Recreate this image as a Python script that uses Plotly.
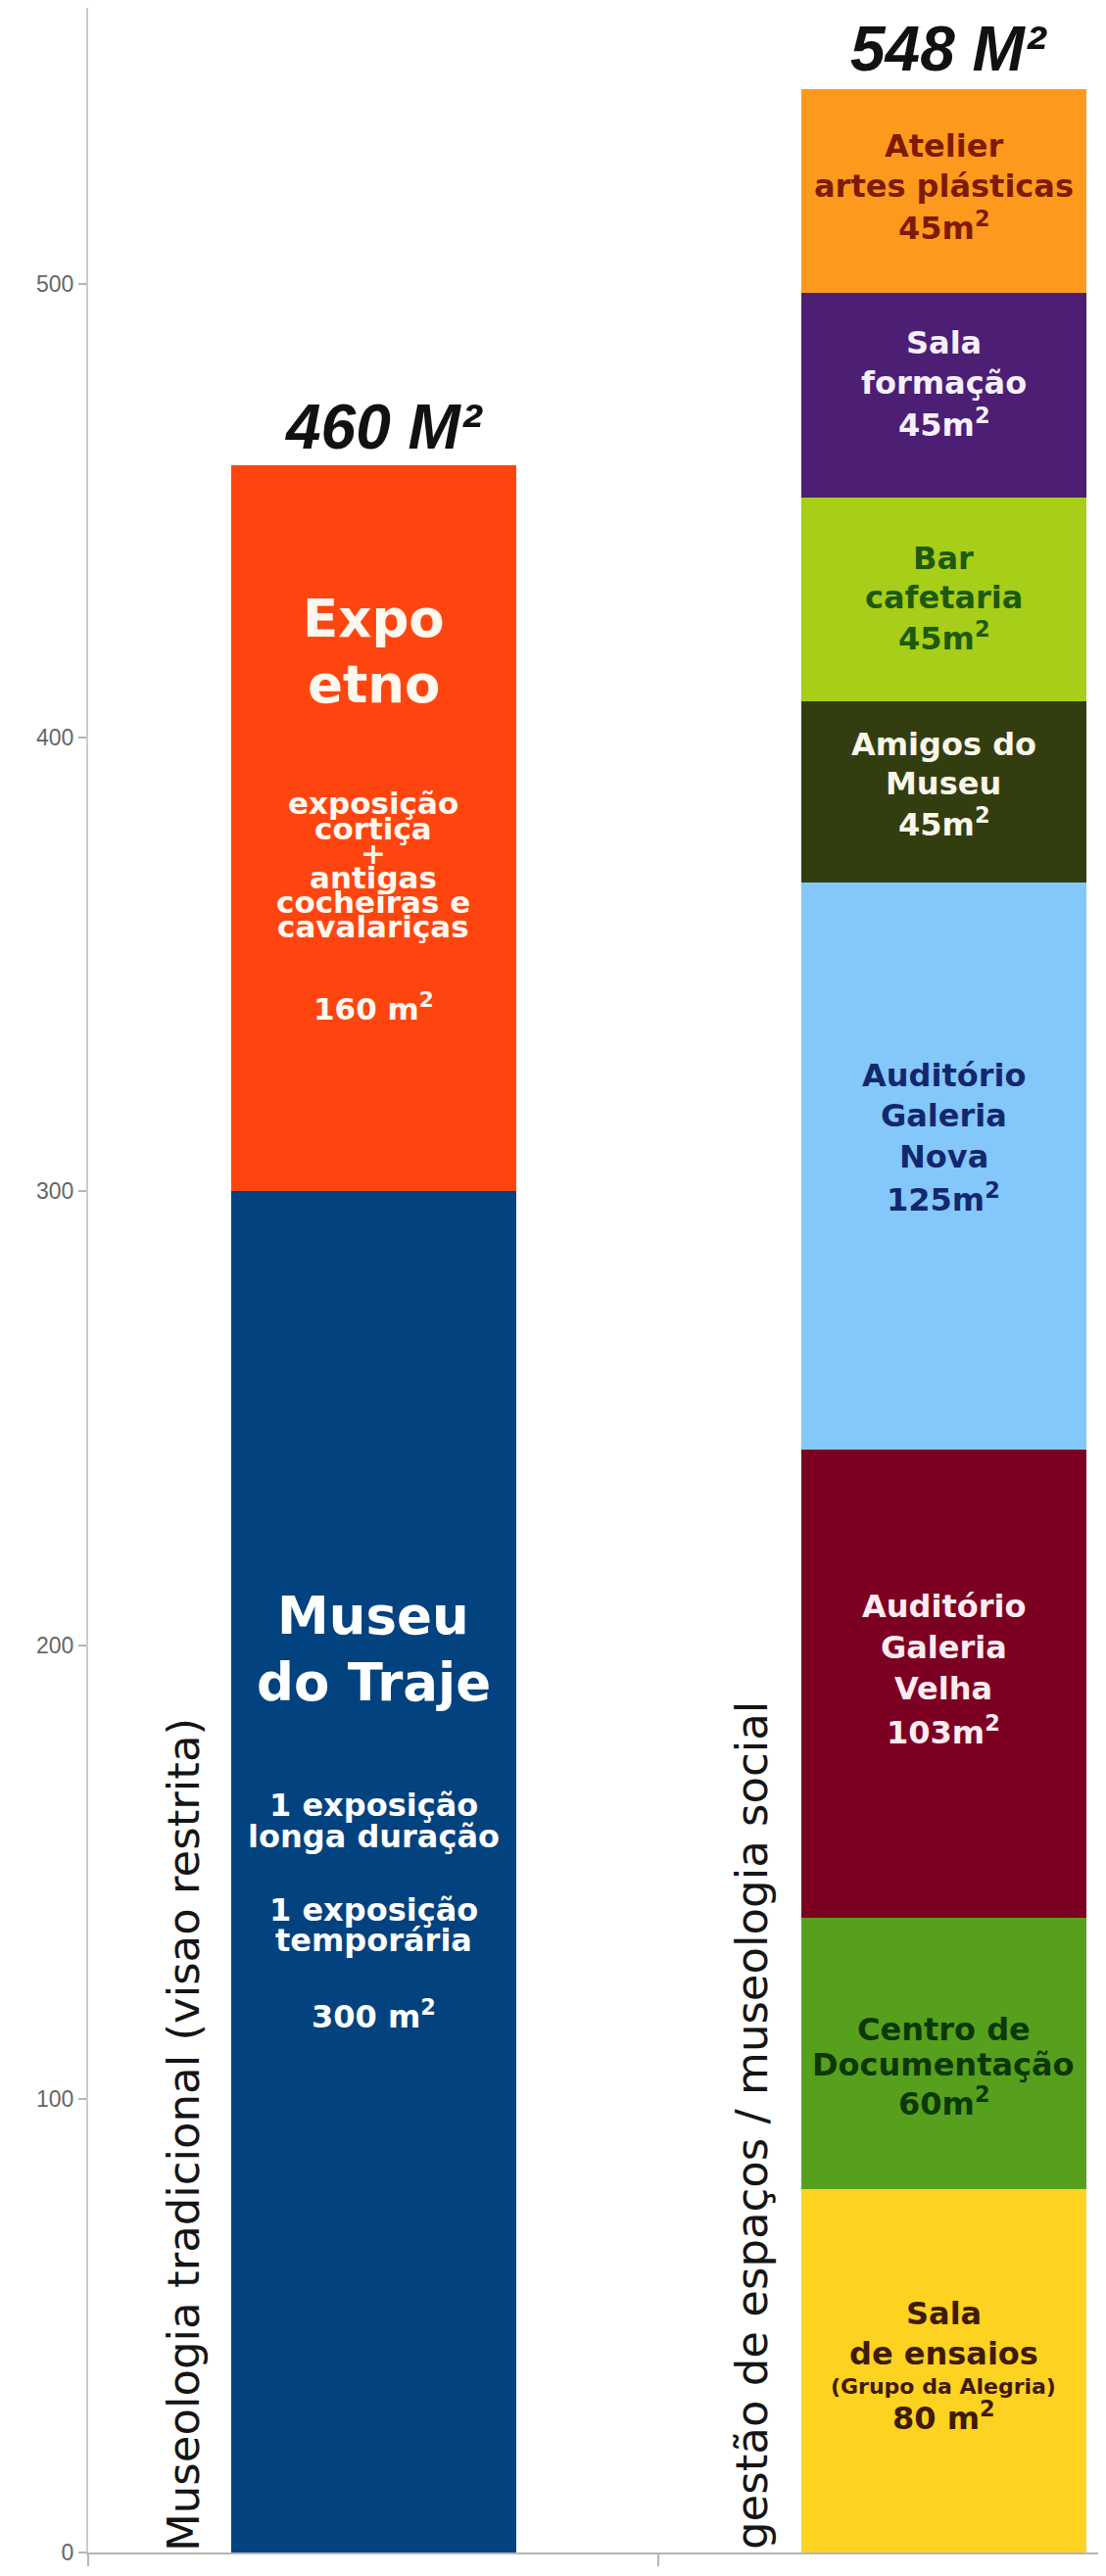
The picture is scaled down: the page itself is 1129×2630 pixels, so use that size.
import plotly.graph_objects as go

# --- data ---------------------------------------------------------------
categories = ["Museologia tradicional", "gestão de espaços"]
cat_x = [0, 1]

left_names = ["Museu do Traje", "Expo etno"]
left_values = [300, 160]
left_colors = ["#01427f", "#fe4510"]

right_names = [
    "Sala de ensaios", "Centro de Documentação", "Auditório Galeria Velha",
    "Auditório Galeria Nova", "Amigos do Museu", "Bar cafetaria",
    "Sala formação", "Atelier artes plásticas",
]
right_values = [80, 60, 103, 125, 40, 45, 45, 45]
right_colors = ["#fdd220", "#56a01e", "#7c0021", "#84c7fa",
                "#323e0f", "#a7ce18", "#4c1e74", "#fd9a1e"]

totals_text = ["460 M²", "548 M²"]
y_ticks = [0, 100, 200, 300, 400, 500]

# --- page geometry (the html body has an 8px margin) ----------------------
BODY = 8
W, H = 1129 - 2 * BODY, 2630 - 2 * BODY
AXIS_X, AXIS_Y = 90, 2606          # page pixels of the y axis / x axis
PX_PER_X, PX_PER_Y = 582.0, 4.632
M_L = AXIS_X - BODY
M_B = BODY + H - AXIS_Y
Y_MAX = (AXIS_Y - BODY) / PX_PER_Y
X_MAX = -0.5 + (BODY + W - AXIS_X) / PX_PER_X


def ypx(px):
    return (AXIS_Y - px) / PX_PER_Y


def xpx(px):
    return -0.5 + (px - AXIS_X) / PX_PER_X


fig = go.Figure()

for name, val, col in zip(left_names, left_values, left_colors):
    fig.add_trace(go.Bar(x=[cat_x[0]], y=[val], name=name, width=0.5,
                         marker=dict(color=col, line=dict(width=0)),
                         showlegend=False))
for name, val, col in zip(right_names, right_values, right_colors):
    fig.add_trace(go.Bar(x=[cat_x[1]], y=[val], name=name, width=0.5,
                         marker=dict(color=col, line=dict(width=0)),
                         showlegend=False))

BOLD = "DejaVu Sans"


def label(x, lines, color, size=32):
    # lines: list of (text, y_px) or (text, y_px, size)
    for item in lines:
        txt, yp = item[0], item[1]
        sz = item[2] if len(item) > 2 else size
        fig.add_annotation(x=x, y=ypx(yp), text=txt, showarrow=False,
                           xanchor="center", yanchor="middle",
                           font=dict(family=BOLD, size=sz, color=color, weight="bold"))


sq = "<sup>2</sup>"
LX, RX = cat_x[0], cat_x[1]

# left bar
label(LX, [("Expo", 631, 53), ("etno", 698, 53)], "#fff8ef")
label(LX, [("exposição", 820), ("cortiça", 846), ("+", 871), ("antigas", 896),
           ("cocheiras e", 921), ("cavalariças", 946), ("160 m" + sq, 1028)], "#fff8ef", 31)
label(LX, [("Museu", 1649, 53), ("do Traje", 1717, 53)], "#ffffff")
label(LX, [("1 exposição", 1843), ("longa duração", 1875), ("1 exposição", 1950),
           ("temporária", 1981), ("300 m" + sq, 2057)], "#ffffff")

# right bar
label(RX, [("Atelier", 149), ("artes plásticas", 190), ("45m" + sq, 231)], "#7e1a07")
label(RX, [("Sala", 350), ("formação", 391), ("45m" + sq, 432)], "#f6f0fb")
label(RX, [("Bar", 570), ("cafetaria", 610), ("45m" + sq, 650)], "#1d5a0f")
label(RX, [("Amigos do", 760), ("Museu", 800), ("45m" + sq, 840)], "#fbf6ea")
label(RX, [("Auditório", 1098), ("Galeria", 1139), ("Nova", 1181), ("125m" + sq, 1223)], "#13276e")
label(RX, [("Auditório", 1640), ("Galeria", 1682), ("Velha", 1724), ("103m" + sq, 1767)], "#fcecf2")
label(RX, [("Centro de", 2072), ("Documentação", 2108), ("60m" + sq, 2146)], "#0d3806")
label(RX, [("Sala", 2362), ("de ensaios", 2403), ("(Grupo da Alegria)", 2436, 22),
           ("80 m" + sq, 2467)], "#401a08")

# totals above bars
for xc, yc, txt in zip([xpx(391), xpx(968)], [ypx(436), ypx(50)], totals_text):
    fig.add_annotation(x=xc, y=yc, text=txt, showarrow=False,
                       font=dict(family="Liberation Sans Narrow, Liberation Sans", size=64,
                                 color="#111111", weight="bold", style="italic"))

# rotated category captions
captions = ["Museologia tradicional (visao restrita)",
            "gestão de espaços / museologia social"]
for xc, yc, txt in zip([xpx(187), xpx(767)], [ypx(2180), ypx(2170)], captions):
    fig.add_annotation(x=xc, y=yc, text=txt, showarrow=False, textangle=-90,
                       font=dict(family="DejaVu Sans", size=45, color="#151515"))

fig.update_layout(
    width=W, height=H,
    barmode="stack",
    bargap=0,
    paper_bgcolor="white", plot_bgcolor="white",
    margin=dict(l=M_L, r=0, t=0, b=M_B, pad=0),
    showlegend=False,
)
fig.update_xaxes(range=[-0.5, X_MAX], tickvals=[-0.5, 0.5, 1.5], showticklabels=False,
                 ticks="outside", ticklen=12, tickcolor="#b5b5b5", tickwidth=2,
                 showline=True, linecolor="#b5b5b5", linewidth=2,
                 showgrid=False, zeroline=False, automargin=False)
fig.update_yaxes(range=[0, Y_MAX], tickvals=y_ticks, ticks="outside", ticklen=8,
                 tickcolor="#b5b5b5", tickwidth=2,
                 tickfont=dict(family="Liberation Sans Narrow, Liberation Sans", size=23, color="#666666"),
                 showline=True, linecolor="#cccccc", linewidth=2,
                 showgrid=False, zeroline=False, automargin=False)

fig.write_html("out.html")
